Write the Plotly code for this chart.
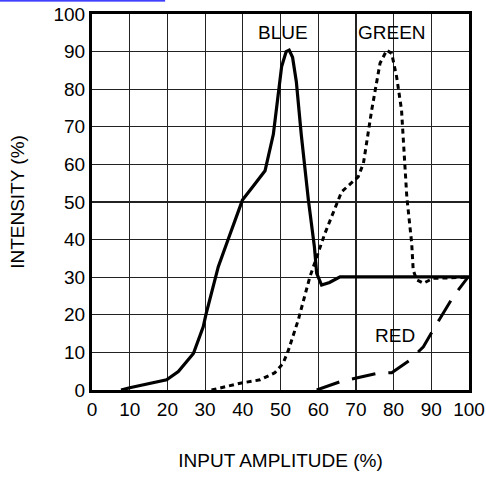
import plotly.graph_objects as go

# Blue (solid)
blue_x = [7.7, 10, 19.8, 22.9, 26.9, 29.5, 30.2, 33.5, 36.2, 39.9, 43, 45.9, 48.1, 50.3, 51.5, 52.3, 53.2, 54.2, 55.5, 57.4, 59.0, 59.6, 60.9, 63, 65.8, 100]
blue_y = [0, 0.6, 2.7, 4.9, 9.7, 16.8, 20, 32.8, 40.3, 50.5, 54.5, 58.3, 68, 86, 90, 90.4, 88.5, 82, 68, 50.5, 38, 31, 27.9, 28.6, 30.1, 30.1]

# Green (dotted)
green_x = [31.7, 39.3, 44.6, 48.5, 50.7, 52.1, 54.7, 57.8, 61.8, 65.3, 66.2, 70.6, 72, 74.2, 76.4, 78.2, 79.5, 80.8, 82.1, 83.5, 84.8, 85.2, 86.1, 87.9, 90.5, 100]
green_y = [0, 1.8, 2.7, 4.6, 7.1, 10.6, 18.6, 30.1, 41.7, 50.5, 52.7, 56.7, 60.3, 74.5, 86.9, 90.4, 89.5, 83.3, 74.5, 51.4, 39, 31.9, 29.3, 28.4, 29.7, 30]

# Red (dashed)
red_x = [59.6, 65.8, 75.5, 79.5, 84.4, 87.9, 90.5, 95.8, 99.8]
red_y = [0, 2.2, 4.4, 4.6, 8, 11.5, 16, 24.8, 30.1]

labels = ["BLUE", "GREEN", "RED"]
label_x = [50.7, 79.5, 80.4]
label_y = [95, 95, 14.6]

x_ticks = list(range(0, 101, 10))
y_ticks = list(range(0, 101, 10))

FONT = "Liberation Sans, Arial, sans-serif"
FS = 19

fig = go.Figure()
fig.add_trace(go.Scatter(x=green_x, y=green_y, mode="lines",
                         line=dict(color="black", width=3, dash="5px,4px")))
fig.add_trace(go.Scatter(x=red_x, y=red_y, mode="lines",
                         line=dict(color="black", width=3, dash="24px,13px")))
fig.add_trace(go.Scatter(x=blue_x, y=blue_y, mode="lines",
                         line=dict(color="black", width=3.2)))

for t, x, y in zip(labels, label_x, label_y):
    fig.add_annotation(x=x, y=y, text=t, showarrow=False,
                       font=dict(family=FONT, size=FS, color="black"))

# hyperlink underline at the top
fig.add_shape(type="line", xref="paper", yref="paper",
              x0=-0.244, x1=0.194, y0=1.035, y1=1.035,
              line=dict(color="#0000ff", width=1.2))

axis_common = dict(range=[0, 100], showgrid=True, gridcolor="#222222", gridwidth=1.2,
                   showline=True, linecolor="black", linewidth=3, mirror=True,
                   zeroline=False, ticks="", tickfont=dict(family=FONT, size=FS, color="black"),
                   fixedrange=True, automargin=False)

fig.update_layout(
    width=486, height=480,
    margin=dict(l=92, r=17, t=14, b=90),
    paper_bgcolor="white", plot_bgcolor="white",
    showlegend=False,
    xaxis=dict(**axis_common, tickvals=x_ticks,
               title=dict(text="INPUT AMPLITUDE (%)", font=dict(family=FONT, size=FS, color="black"),
                          standoff=35)),
    yaxis=dict(**axis_common, tickvals=y_ticks,
               title=dict(text="INTENSITY (%)", font=dict(family=FONT, size=FS, color="black"),
                          standoff=24)),
)

fig.write_html("out.html", config={"displayModeBar": False, "staticPlot": True},
               post_script="document.body.style.margin='0px';")
